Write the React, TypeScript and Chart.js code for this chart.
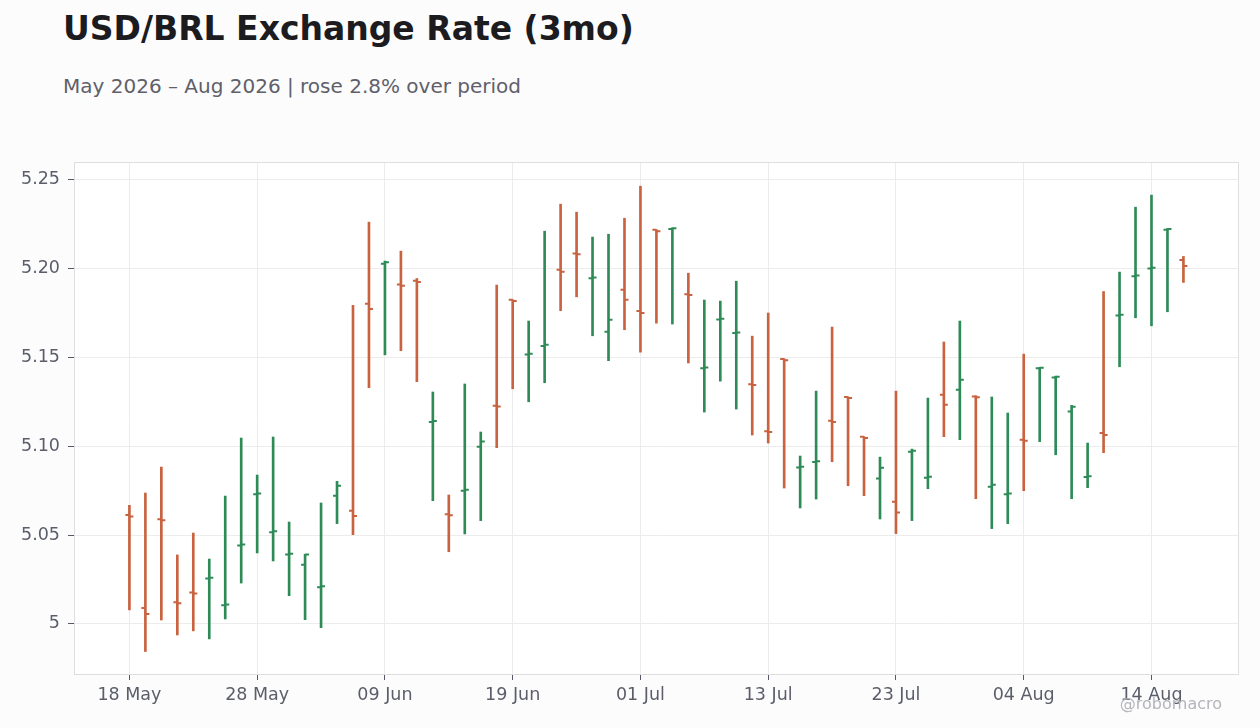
import React, { useRef, useEffect } from 'react';
import { Chart, registerables } from 'chart.js';

Chart.register(...registerables);

// trading days, 18 May 2026 -> 18 Aug 2026
const dates = [
  '18 May', '19 May', '20 May', '21 May', '22 May',
  '25 May', '26 May', '27 May', '28 May', '29 May',
  '01 Jun', '02 Jun', '03 Jun', '04 Jun', '05 Jun',
  '08 Jun', '09 Jun', '10 Jun', '11 Jun', '12 Jun',
  '15 Jun', '16 Jun', '17 Jun', '18 Jun', '19 Jun',
  '22 Jun', '23 Jun', '24 Jun', '25 Jun', '26 Jun',
  '29 Jun', '30 Jun', '01 Jul', '02 Jul', '03 Jul',
  '06 Jul', '07 Jul', '08 Jul', '09 Jul', '10 Jul',
  '13 Jul', '14 Jul', '15 Jul', '16 Jul', '17 Jul',
  '20 Jul', '21 Jul', '22 Jul', '23 Jul', '24 Jul',
  '27 Jul', '28 Jul', '29 Jul', '30 Jul', '31 Jul',
  '03 Aug', '04 Aug', '05 Aug', '06 Aug', '07 Aug',
  '10 Aug', '11 Aug', '12 Aug', '13 Aug', '14 Aug',
  '17 Aug', '18 Aug',
];

const opens = [
  5.0612, 5.0090, 5.0588, 5.0122, 5.0177, 5.0255, 5.0105, 5.0441, 5.0729, 5.0516,
  5.0390, 5.0333, 5.0207, 5.0721, 5.0637, 5.1800, 5.2025, 5.1908, 5.1929, 5.1136,
  5.0617, 5.0749, 5.0996, 5.1227, 5.1822, 5.1515, 5.1562, 5.1991, 5.2083, 5.1944,
  5.1643, 5.1879, 5.1759, 5.2216, 5.2221, 5.1853, 5.1438, 5.1712, 5.1635, 5.1347,
  5.1083, 5.1489, 5.0880, 5.0910, 5.1143, 5.1276, 5.1052, 5.0817, 5.0687, 5.0968,
  5.0822, 5.1289, 5.1317, 5.1278, 5.0772, 5.0729, 5.1035, 5.1438, 5.1386, 5.1195,
  5.0826, 5.1073, 5.1734, 5.1955, 5.1998, 5.2216, 5.2046,
];
const highs = [
  5.0667, 5.0736, 5.0882, 5.0388, 5.0511, 5.0365, 5.0719, 5.1045, 5.0837, 5.1051,
  5.0573, 5.0392, 5.0680, 5.0802, 5.1791, 5.2259, 5.2040, 5.2096, 5.1942, 5.1304,
  5.0725, 5.1349, 5.1079, 5.1905, 5.1823, 5.1703, 5.2208, 5.2360, 5.2315, 5.2175,
  5.2191, 5.2281, 5.2461, 5.2217, 5.2227, 5.1972, 5.1821, 5.1815, 5.1927, 5.1618,
  5.1748, 5.1491, 5.0944, 5.1309, 5.1669, 5.1277, 5.1053, 5.0938, 5.1309, 5.0983,
  5.1270, 5.1585, 5.1703, 5.1283, 5.1276, 5.1186, 5.1517, 5.1442, 5.1393, 5.1229,
  5.1017, 5.1869, 5.1978, 5.2343, 5.2411, 5.2223, 5.2066,
];
const lows = [
  5.0079, 4.9845, 5.0022, 4.9938, 4.9961, 4.9916, 5.0028, 5.0230, 5.0399, 5.0354,
  5.0159, 5.0024, 4.9979, 5.0564, 5.0502, 5.1328, 5.1513, 5.1536, 5.1362, 5.0693,
  5.0406, 5.0506, 5.0581, 5.0991, 5.1322, 5.1249, 5.1356, 5.1761, 5.1839, 5.1620,
  5.1480, 5.1654, 5.1528, 5.1691, 5.1686, 5.1467, 5.1191, 5.1365, 5.1208, 5.1062,
  5.1017, 5.0764, 5.0652, 5.0702, 5.0912, 5.0777, 5.0721, 5.0590, 5.0508, 5.0581,
  5.0760, 5.1053, 5.1036, 5.0704, 5.0536, 5.0564, 5.0749, 5.1025, 5.0951, 5.0704,
  5.0766, 5.0963, 5.1446, 5.1721, 5.1676, 5.1755, 5.1920,
];
const closes = [
  5.0604, 5.0056, 5.0583, 5.0116, 5.0171, 5.0260, 5.0110, 5.0446, 5.0734, 5.0521,
  5.0395, 5.0390, 5.0212, 5.0777, 5.0607, 5.1770, 5.2034, 5.1902, 5.1922, 5.1141,
  5.0611, 5.0755, 5.1025, 5.1223, 5.1815, 5.1519, 5.1570, 5.1980, 5.2079, 5.1948,
  5.1710, 5.1822, 5.1748, 5.2208, 5.2225, 5.1849, 5.1442, 5.1716, 5.1639, 5.1343,
  5.1079, 5.1483, 5.0884, 5.0914, 5.1135, 5.1270, 5.1045, 5.0878, 5.0626, 5.0974,
  5.0828, 5.1232, 5.1373, 5.1275, 5.0783, 5.0734, 5.1030, 5.1441, 5.1390, 5.1221,
  5.0830, 5.1062, 5.1738, 5.1959, 5.2002, 5.2221, 5.2012,
];

const xTickIdx = [0, 8, 16, 24, 32, 40, 48, 56, 64];
const yTickValues = [5, 5.05, 5.1, 5.15, 5.2, 5.25];
const yTickLabels = ['5', '5.05', '5.10', '5.15', '5.20', '5.25'];

const UP = '#2e8b57';
const DOWN = '#c9623f';
const FONT = "'DejaVu Sans', sans-serif";

// white plot panel, full border and the open/close ticks
const ohlcPlugin = {
  id: 'ohlc',
  beforeDraw(chart: any) {
    const { ctx, chartArea: a } = chart;
    ctx.save();
    ctx.fillStyle = '#ffffff';
    ctx.fillRect(a.left, a.top, a.right - a.left, a.bottom - a.top);
    ctx.restore();
  },
  beforeDatasetsDraw(chart: any) {
    const { ctx, chartArea: a } = chart;
    ctx.save();
    ctx.strokeStyle = '#dedede';
    ctx.lineWidth = 1;
    ctx.strokeRect(a.left + 0.5, a.top + 0.5, a.right - a.left - 1, a.bottom - a.top - 1);
    ctx.restore();
  },
  afterDatasetsDraw(chart: any) {
    const { ctx, scales } = chart;
    const xs = scales.x;
    const ys = scales.y;
    ctx.save();
    ctx.lineWidth = 2;
    ctx.lineCap = 'butt';
    opens.forEach((o, i) => {
      const c = closes[i];
      const px = xs.getPixelForValue(i);
      ctx.strokeStyle = c >= o ? UP : DOWN;
      ctx.beginPath();
      ctx.moveTo(px - 4, ys.getPixelForValue(o));
      ctx.lineTo(px, ys.getPixelForValue(o));
      ctx.moveTo(px, ys.getPixelForValue(c));
      ctx.lineTo(px + 4, ys.getPixelForValue(c));
      ctx.stroke();
    });
    ctx.restore();
  },
};

const App = () => {
  const canvasRef = useRef<any>(null);
  const chartRef = useRef<any>(null);

  useEffect(() => {
    if (canvasRef.current) {
      const ctx = canvasRef.current.getContext('2d');

      if (chartRef.current) {
        chartRef.current.destroy();
      }

      chartRef.current = new Chart(ctx, {
        type: 'bar',
        data: {
          datasets: [{
            data: dates.map((_, i) => ({ x: i, y: [lows[i], highs[i]] })) as any,
            backgroundColor: dates.map((_, i) => (closes[i] >= opens[i] ? UP : DOWN)),
            borderWidth: 0,
            barThickness: 2,
          }],
        },
        options: {
          animation: false,
          responsive: true,
          maintainAspectRatio: false,
          layout: { padding: { top: 162, right: 21, left: 0, bottom: 0 } },
          plugins: {
            legend: { display: false },
            tooltip: { enabled: false },
          },
          scales: {
            x: {
              type: 'linear',
              min: -3.47,
              max: 69.48,
              offset: false,
              grid: { offset: false, color: '#ececec', tickColor: '#555866', tickLength: 5 },
              border: { display: false },
              afterBuildTicks: (axis: any) => {
                axis.ticks = xTickIdx.map((v) => ({ value: v }));
              },
              afterFit: (axis: any) => {
                axis.height = 53;
              },
              ticks: {
                autoSkip: false,
                maxRotation: 0,
                padding: 5,
                color: '#5b5e6a',
                font: { family: FONT, size: 17.5 },
                callback: (v: any) => dates[v] ?? '',
              },
            },
            y: {
              min: 4.9713,
              max: 5.2597,
              grid: { color: '#ececec', tickColor: '#555866', tickLength: 6 },
              border: { display: false },
              afterBuildTicks: (axis: any) => {
                axis.ticks = yTickValues.map((v) => ({ value: v }));
              },
              afterFit: (axis: any) => {
                axis.width = 74;
              },
              ticks: {
                padding: 8,
                color: '#5b5e6a',
                font: { family: FONT, size: 17.5 },
                callback: (v: any) => yTickLabels[yTickValues.findIndex((t) => Math.abs(t - v) < 1e-9)] ?? '',
              },
            },
          },
        },
        plugins: [ohlcPlugin],
      });
    }

    return () => {
      if (chartRef.current) {
        chartRef.current.destroy();
        chartRef.current = null;
      }
    };
  }, []);

  return (
    <div style={{ position: 'absolute', left: 0, top: 0, width: 1260, height: 728, background: '#fcfcfd', fontFamily: FONT }}>
      <div style={{ position: 'absolute', left: 63, top: 11, fontSize: 33, lineHeight: '36px', fontWeight: 'bold', color: '#1b1b20', whiteSpace: 'nowrap' }}>
        USD/BRL Exchange Rate (3mo)
      </div>
      <div style={{ position: 'absolute', left: 63, top: 74, fontSize: 20, lineHeight: '24px', color: '#5f6069', whiteSpace: 'nowrap' }}>
        May 2026 – Aug 2026 | rose 2.8% over period
      </div>
      <div style={{ position: 'absolute', left: 0, top: 0, width: 1260, height: 728 }}>
        <canvas ref={canvasRef} />
      </div>
      <div style={{ position: 'absolute', right: 38, top: 694, fontSize: 16, lineHeight: '20px', color: '#b4b5bb', whiteSpace: 'nowrap' }}>
        @robomacro
      </div>
    </div>
  );
};

export default App;
